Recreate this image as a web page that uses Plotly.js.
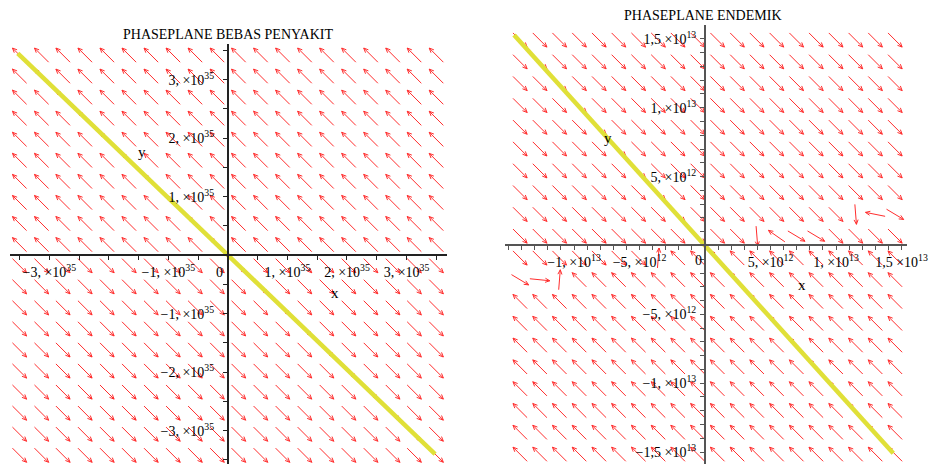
<!DOCTYPE html>
<html>
<head>
<meta charset="utf-8">
<script src="https://cdn.plot.ly/plotly-3.0.1.min.js"></script>
<style>html,body{margin:0;padding:0;background:#fff;}#chart{width:931px;height:464px;}</style>
</head>
<body>
<div id="chart"></div>
<script>
// ---------- DATA ----------
// Left chart (PHASEPLANE BEBAS PENYAKIT), values in units of 1e35
const LEFT_UNIT = 1e35;
const leftGridX = [-3.50,-3.13,-2.77,-2.40,-2.03,-1.66,-1.29,-0.92,-0.55,-0.18,0.18,0.55,0.92,1.29,1.66,2.03,2.40,2.77,3.13,3.50];
const leftGridY = [3.42,3.06,2.70,2.34,1.98,1.62,1.26,0.90,0.54,0.18,-0.18,-0.54,-0.90,-1.26,-1.62,-1.98,-2.34,-2.70,-3.06,-3.42];
// u = arrow up-left, d = arrow down-right (rows top to bottom)
const leftField = [
  "uuuuuuuuuuuuuuuuuuuu","uuuuuuuuuuuuuuuuuuuu","uuuuuuuuuuuuuuuuuuuu","uuuuuuuuuuuuuuuuuuuu",
  "uuuuuuuuuuuuuuuuuuuu","uuuuuuuuuuuuuuuuuuuu","uuuuuuuuuuuuuuuuuuuu","uuuuuuuuuuuuuuuuuuuu",
  "uuuuuuuuuuuuuuuuuuuu","uuuuuuuuuuuuuuuuuuuu",
  "dddddddddddddddddddd","dddddddddddddddddddd","dddddddddddddddddddd","dddddddddddddddddddd",
  "dddddddddddddddddddd","dddddddddddddddddddd","dddddddddddddddddddd","dddddddddddddddddddd",
  "dddddddddddddddddddd","dddddddddddddddddddd"
];
const leftLineX = [-3.53, 0, 3.48];
const leftLineY = [3.45, 0, -3.40];
const leftXTickVals = [-3, -1, 1, 2, 3];
const leftXTickText = ["−3, ×10<sup>35</sup>","−1, ×10<sup>35</sup>","1, ×10<sup>35</sup>","2, ×10<sup>35</sup>","3, ×10<sup>35</sup>"];
const leftXMinor = [-3.5,-2.5,-2,-1.5,-0.5,0.5,1.5,2.5,3.5];
const leftYTickVals = [-3, -2, -1, 1, 2, 3];
const leftYTickText = ["−3, ×10<sup>35</sup>","−2, ×10<sup>35</sup>","−1, ×10<sup>35</sup>","1, ×10<sup>35</sup>","2, ×10<sup>35</sup>","3, ×10<sup>35</sup>"];
const leftYMinor = [-3.5,-2.5,-1.5,-0.5,0.5,1.5,2.5,3.5];

// Right chart (PHASEPLANE ENDEMIK), values in units of 1e12
const RIGHT_UNIT = 1e12;
const rightGridX = [-14.12,-12.61,-11.11,-9.60,-8.09,-6.59,-5.08,-3.57,-2.07,-0.56,0.95,2.46,3.96,5.47,6.98,8.48,9.99,11.50,13.00,14.51];
const rightGridY = [14.92,13.34,11.76,10.17,8.59,7.01,5.42,3.84,2.26,0.68,-0.91,-2.49,-4.07,-5.66,-7.24,-8.82,-10.41,-11.99,-13.57,-15.16];
// d = down-right, u = up-left, other letters = irregular arrows (see rightSpecial)
const rightField = [
  "dddddddddddddddddddd","dddddddddddddddddddd","dddddddddddddddddddd","dddddddddddddddddddd",
  "dddddddddddddddddddd","dddddddddddddddddddd","dddddddddddddddddddd","dddddddddddddddddddd",
  "dddddddddddddddddVLs",
  "ddddddddddddVhssdddd",
  "dddddddUuuuuuuuuuuuu",
  "sRUuuuuuuuuuuuuuuuuu",
  "uuuuuuuuuuuuuuuuuuuu","uuuuuuuuuuuuuuuuuuuu","uuuuuuuuuuuuuuuuuuuu","uuuuuuuuuuuuuuuuuuuu",
  "uuuuuuuuuuuuuuuuuuuu","uuuuuuuuuuuuuuuuuuuu","uuuuuuuuuuuuuuuuuuuu","uuuuuuuuuuuuuuuuuuuu"
];
const rightSpecial = {V:[0.08,-1], L:[-1,0.2], s:[1,-0.6], h:[-1,0.7], U:[0.08,1], R:[1,-0.1]};
const rightLineX = [-14.58, 0, 14.37];
const rightLineY = [15.29, 0, -15.09];
const rightXTickVals = [-10, -5, 5, 10, 15];
const rightXTickText = ["−1, ×10<sup>13</sup>","−5, ×10<sup>12</sup>","5, ×10<sup>12</sup>","1, ×10<sup>13</sup>","1,5 ×10<sup>13</sup>"];
const rightXMinor = [-15,-14,-13,-12,-11,-9,-8,-7,-6,-4,-3,-2,-1,1,2,3,4,6,7,8,9,11,12,13,14];
const rightYTickVals = [-15, -10, -5, 5, 10, 15];
const rightYTickText = ["−1,5 ×10<sup>13</sup>","−1, ×10<sup>13</sup>","−5, ×10<sup>12</sup>","5, ×10<sup>12</sup>","1, ×10<sup>13</sup>","1,5 ×10<sup>13</sup>"];
const rightYMinor = rightXMinor;

// ---------- LAYOUT GEOMETRY ----------
const W = 931, H = 464;
const L_xdom = [10/W, 447/W], L_xr = [-3.66, 3.68];
const L_ydom = [0, 1 - 44/H], L_yr = [-3.57, 3.61];
const R_xdom = [505/W, 907/W], R_xr = [-15.27, 15.42];
const R_ydom = [0, 1 - 25/H], R_yr = [-15.87, 16.01];
function zeroPos(dom, r){ return dom[0] + (0 - r[0])/(r[1]-r[0])*(dom[1]-dom[0]); }
function pxPerUnit(dom, r, size){ return (dom[1]-dom[0])*size/(r[1]-r[0]); }

const FONT = 'Liberation Serif, Times New Roman, serif';
const ARROW_COLOR = 'rgb(255,45,45)';
const HALF_LEN = 10, HEAD_LEN = 5, HEAD_ANG = 24*Math.PI/180;

// builds arrow polylines (data coordinates) from the field grid
function fieldTrace(gx, gy, field, special, unit, kx, ky, xa, ya){
  const X = [], Y = [];
  field.forEach((row, i) => {
    for (let j = 0; j < row.length; j++){
      const c = row[j];
      const v = c === 'u' ? [-1, 1] : c === 'd' ? [1, -1] : special[c];
      const n = Math.hypot(v[0], v[1]);
      const ux = v[0]/n, uy = v[1]/n;
      const cx = gx[j], cy = gy[i];
      const hx = cx + HALF_LEN*ux/kx, hy = cy + HALF_LEN*uy/ky;
      const tx = cx - HALF_LEN*ux/kx, ty = cy - HALF_LEN*uy/ky;
      X.push(tx*unit, hx*unit, null); Y.push(ty*unit, hy*unit, null);
      [HEAD_ANG, -HEAD_ANG].forEach(a => {
        const bx = -(ux*Math.cos(a) - uy*Math.sin(a));
        const by = -(ux*Math.sin(a) + uy*Math.cos(a));
        X.push(hx*unit, (hx + HEAD_LEN*bx/kx)*unit, null);
        Y.push(hy*unit, (hy + HEAD_LEN*by/ky)*unit, null);
      });
    }
  });
  return {x: X, y: Y, xaxis: xa, yaxis: ya, mode: 'lines', connectgaps: false,
          line: {color: ARROW_COLOR, width: 1}, hoverinfo: 'skip'};
}

const traces = [
  fieldTrace(leftGridX, leftGridY, leftField, {}, LEFT_UNIT,
             pxPerUnit(L_xdom, L_xr, W), pxPerUnit(L_ydom, L_yr, H), 'x', 'y'),
  fieldTrace(rightGridX, rightGridY, rightField, rightSpecial, RIGHT_UNIT,
             pxPerUnit(R_xdom, R_xr, W), pxPerUnit(R_ydom, R_yr, H), 'x2', 'y2'),
  {x: leftLineX.map(v=>v*LEFT_UNIT), y: leftLineY.map(v=>v*LEFT_UNIT), xaxis:'x', yaxis:'y',
   mode:'lines', line:{color:'rgb(224,224,56)', width:4.5}, hoverinfo:'skip'},
  {x: rightLineX.map(v=>v*RIGHT_UNIT), y: rightLineY.map(v=>v*RIGHT_UNIT), xaxis:'x2', yaxis:'y2',
   mode:'lines', line:{color:'rgb(224,224,56)', width:4.5}, hoverinfo:'skip'}
];

function txt(text, x, y, xref, yref, size, extra){
  return Object.assign({text: text, x: x, y: y, xref: xref, yref: yref, showarrow: false,
    font: {family: FONT, size: size, color: '#000'}}, extra || {});
}
const annotations = [
  txt('PHASEPLANE BEBAS PENYAKIT', 228/W, 1 - 34/H, 'paper', 'paper', 14, {xanchor:'center', yanchor:'middle'}),
  txt('PHASEPLANE ENDEMIK', 703/W, 1 - 15/H, 'paper', 'paper', 14, {xanchor:'center', yanchor:'middle'}),
  txt('x', 335/W, 1 - 293/H, 'paper', 'paper', 15, {xanchor:'center', yanchor:'middle'}),
  txt('y', 141.5/W, 1 - 152/H, 'paper', 'paper', 15, {xanchor:'center', yanchor:'middle'}),
  txt('x', 802/W, 1 - 285/H, 'paper', 'paper', 15, {xanchor:'center', yanchor:'middle'}),
  txt('y', 608/W, 1 - 138/H, 'paper', 'paper', 15, {xanchor:'center', yanchor:'middle'}),
  txt('0', 0, 0, 'x', 'y', 14, {xshift:-8, yshift:-17}),
  txt('0', 0, 0, 'x2', 'y2', 14, {xshift:-7, yshift:-15})
];

function axis(dom, r, unit, tv, tt, minor, anchorPos, color, side, standoff){
  return {
    domain: dom, range: r.map(v=>v*unit), anchor: 'free', position: anchorPos, side: side,
    showgrid: false, zeroline: false, showline: true, linecolor: color, linewidth: 2,
    ticks: 'outside', ticklen: 4, tickwidth: 1, tickcolor: color,
    tickmode: 'array', tickvals: tv.map(v=>v*unit), ticktext: tt,
    minor: {tickmode: 'array', tickvals: minor.map(v=>v*unit), ticks: 'outside', ticklen: 4, tickwidth: 1, tickcolor: color},
    ticklabelstandoff: standoff,
    tickfont: {family: FONT, size: 14, color: '#000'}, fixedrange: true
  };
}

const layout = {
  width: W, height: H, margin: {l:0, r:0, t:0, b:0},
  paper_bgcolor: '#fff', plot_bgcolor: '#fff', showlegend: false,
  xaxis: axis(L_xdom, L_xr, LEFT_UNIT, leftXTickVals, leftXTickText, leftXMinor, zeroPos(L_ydom, L_yr), '#222', 'bottom', 0),
  yaxis: axis(L_ydom, L_yr, LEFT_UNIT, leftYTickVals, leftYTickText, leftYMinor, zeroPos(L_xdom, L_xr), '#222', 'left', 6),
  xaxis2: axis(R_xdom, R_xr, RIGHT_UNIT, rightXTickVals, rightXTickText, rightXMinor, zeroPos(R_ydom, R_yr), '#555', 'bottom', 0),
  yaxis2: axis(R_ydom, R_yr, RIGHT_UNIT, rightYTickVals, rightYTickText, rightYMinor, zeroPos(R_xdom, R_xr), '#555', 'left', 1),
  annotations: annotations
};

Plotly.newPlot('chart', traces, layout, {staticPlot: true, displayModeBar: false});
</script>
</body>
</html>
